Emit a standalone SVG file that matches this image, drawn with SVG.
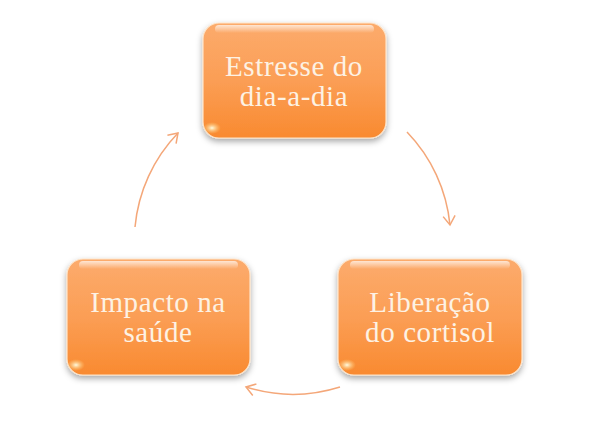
<svg xmlns="http://www.w3.org/2000/svg" width="598" height="426" viewBox="0 0 598 426">
  <defs>
    <linearGradient id="fill" x1="0" y1="0" x2="0" y2="1">
      <stop offset="0" stop-color="#fcab6c"/>
      <stop offset="0.5" stop-color="#fb9e55"/>
      <stop offset="1" stop-color="#f98a30"/>
    </linearGradient>
    <linearGradient id="gloss" x1="0" y1="0" x2="0" y2="1">
      <stop offset="0" stop-color="#ffffff" stop-opacity="0.7"/>
      <stop offset="1" stop-color="#ffffff" stop-opacity="0"/>
    </linearGradient>
    <radialGradient id="spot" cx="0.5" cy="0.5" r="0.5">
      <stop offset="0" stop-color="#fffbe0" stop-opacity="1"/>
      <stop offset="1" stop-color="#ffd27a" stop-opacity="0"/>
    </radialGradient>
    <filter id="shadow" x="-20%" y="-20%" width="140%" height="150%">
      <feDropShadow dx="0" dy="3" stdDeviation="3" flood-color="#000" flood-opacity="0.35"/>
    </filter>
    <marker id="arrow" markerWidth="14" markerHeight="14" refX="10" refY="7" orient="auto" markerUnits="userSpaceOnUse">
      <polyline points="1,1 10,7 1,13" fill="none" stroke="#f4a779" stroke-width="1.5"/>
    </marker>
  </defs>
  <style>
    .box { fill: url(#fill); stroke: #fde3c8; stroke-width: 1.2; filter: url(#shadow); }
    .gloss { fill: url(#gloss); }
    .spot { fill: url(#spot); }
    .label { font-family: "Liberation Serif", "DejaVu Serif", serif; font-size: 29px; letter-spacing: 0.6px; fill: #fdf2e4; text-anchor: middle; }
    .conn { fill: none; stroke: #f4a779; stroke-width: 1.5; marker-end: url(#arrow); }
  </style>
  <rect width="598" height="426" fill="#ffffff"/>

  <g id="connectors">
    <path class="conn" d="M407,132 A156,156 0 0 1 450,225"/>
    <path class="conn" d="M340,387 A156,156 0 0 1 246,387"/>
    <path class="conn" d="M135,227 A156,156 0 0 1 178,133"/>
  </g>

  <g id="node-estresse">
    <rect class="box" x="203" y="23" width="183" height="115" rx="16"/>
    <rect class="gloss" x="215" y="25" width="159" height="8" rx="4"/>
    <ellipse class="spot" cx="212" cy="128" rx="9" ry="6"/>
    <text class="label" x="294" y="76">Estresse do</text>
    <text class="label" x="294" y="106">dia-a-dia</text>
  </g>

  <g id="node-impacto">
    <rect class="box" x="67" y="259" width="183" height="116" rx="16"/>
    <rect class="gloss" x="79" y="261" width="159" height="8" rx="4"/>
    <ellipse class="spot" cx="76" cy="365" rx="9" ry="6"/>
    <text class="label" x="158" y="312">Impacto na</text>
    <text class="label" x="158" y="342">saúde</text>
  </g>

  <g id="node-liberacao">
    <rect class="box" x="338" y="259" width="184" height="116" rx="16"/>
    <rect class="gloss" x="350" y="261" width="160" height="8" rx="4"/>
    <ellipse class="spot" cx="347" cy="365" rx="9" ry="6"/>
    <text class="label" x="430" y="312">Liberação</text>
    <text class="label" x="430" y="342">do cortisol</text>
  </g>
</svg>
